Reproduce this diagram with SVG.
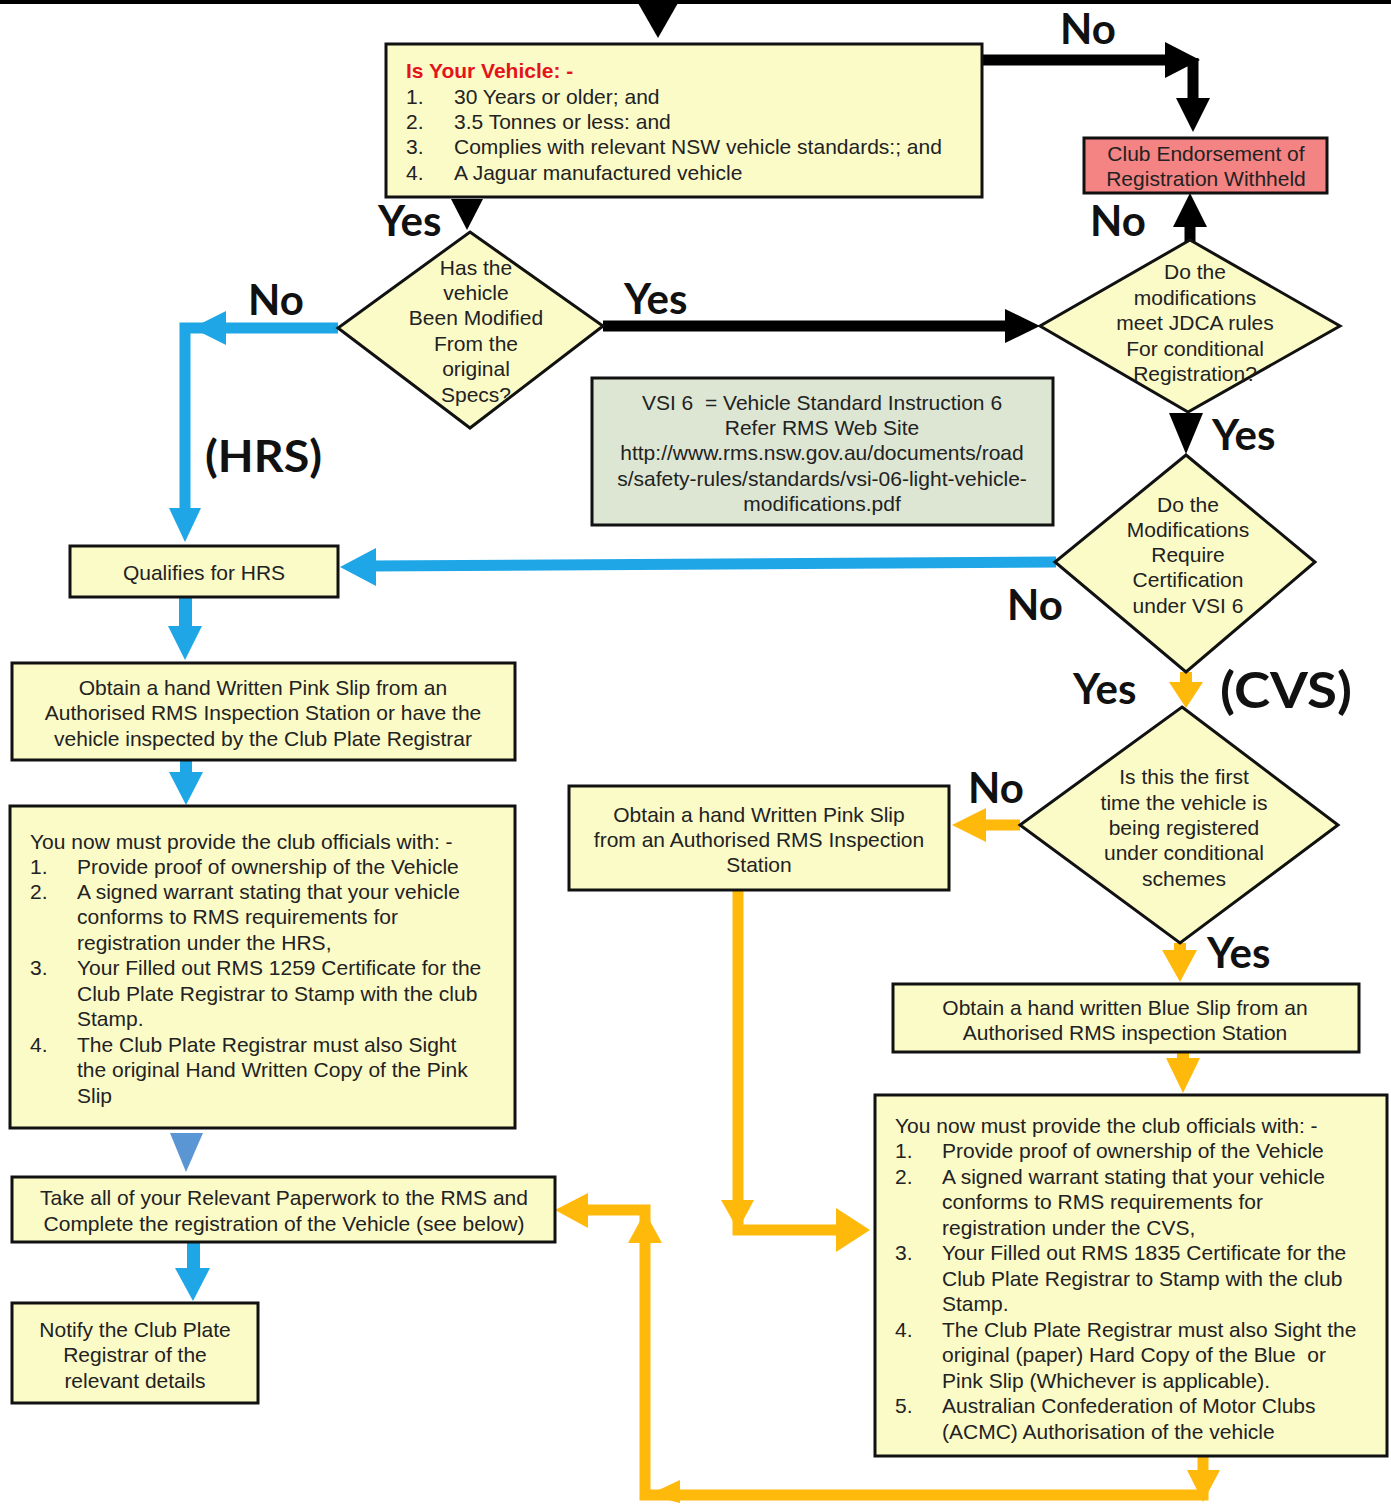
<svg xmlns="http://www.w3.org/2000/svg" width="1391" height="1505" viewBox="0 0 1391 1505">
<style>
.bg{fill:#ffffff}
.box{fill:#fbfbc8;stroke:#111;stroke-width:3}
.red{fill:#f48383;stroke:#111;stroke-width:3}
.green{fill:#dce6d3;stroke:#111;stroke-width:3}
.t{font-family:"Liberation Sans",Arial,sans-serif;font-size:21px;fill:#222;white-space:pre}
.c{text-anchor:middle}
.hd{font-weight:bold;fill:#e3141b}
.lbl{font-family:Lato,"Open Sans",sans-serif;font-weight:bold;font-size:42px;fill:#111}
.k{stroke:#000;stroke-width:11;fill:none}
.kf{fill:#000}
.b{stroke:#1ea6e6;stroke-width:11;fill:none}
.bf{fill:#1ea6e6}
.lb{fill:#5b96d4}
.o{stroke:#ffb90b;stroke-width:11;fill:none}
.of{fill:#ffb90b}
</style>
<rect class="bg" x="0" y="0" width="1391" height="1505"/>

<g id="connectors">
  <!-- top incoming -->
  <rect x="0" y="0" width="1391" height="4" fill="#000"/>
  <polygon class="kf" points="638,3 678,3 658,38"/>
  <!-- box1 -> No -> withheld -->
  <polyline class="k" points="982,60 1175,60"/>
  <polygon class="kf" points="1165,42 1200,60 1165,78"/>
  <polyline class="k" points="1193,58 1193,100"/>
  <polygon class="kf" points="1176,98 1210,98 1193,132"/>
  <!-- box1 -> diamond1 -->
  <polygon class="kf" points="451,199 483,199 467,230"/>
  <!-- diamond1 yes -> diamond2 -->
  <polyline class="k" points="603,326 1010,326"/>
  <polygon class="kf" points="1005,309 1040,326 1005,343"/>
  <!-- diamond2 no -> withheld -->
  <polyline class="k" points="1190,222 1190,242"/>
  <polygon class="kf" points="1173,227 1207,227 1190,193"/>
  <!-- diamond2 yes -> diamond3 -->
  <polygon class="kf" points="1169,413 1203,413 1186,454"/>
  <!-- diamond1 no -> qualifies -->
  <polyline class="b" points="338,328 185,328 185,512"/>
  <polygon class="bf" points="226,311 192,328 226,345"/>
  <polygon class="bf" points="169,508 201,508 185,542"/>
  <!-- diamond3 no -> qualifies -->
  <polyline class="b" points="1056,562 370,566"/>
  <polygon class="bf" points="376,548 340,567 376,586"/>
  <!-- HRS chain -->
  <rect class="bf" x="179" y="597" width="13" height="30"/>
  <polygon class="bf" points="168,626 202,626 185,660"/>
  <rect class="bf" x="180" y="760" width="12" height="15"/>
  <polygon class="bf" points="169,772 203,772 186,805"/>
  <polygon class="lb" points="170,1133 203,1133 186,1172"/>
  <rect class="bf" x="187" y="1242" width="13" height="30"/>
  <polygon class="bf" points="175,1268 210,1268 193,1301"/>
  <!-- diamond3 yes -> diamond4 -->
  <rect class="of" x="1180" y="672" width="12" height="14"/>
  <polygon class="of" points="1169,682 1203,682 1186,708"/>
  <!-- diamond4 no -> pink slip -->
  <polyline class="o" points="1020,825 980,825"/>
  <polygon class="of" points="986,808 952,825 986,842"/>
  <!-- diamond4 yes -> blue slip -->
  <rect class="of" x="1174" y="943" width="12" height="10"/>
  <polygon class="of" points="1162,950 1197,950 1180,982"/>
  <!-- blue slip -> CVS list -->
  <rect class="of" x="1177" y="1052" width="12" height="10"/>
  <polygon class="of" points="1166,1058 1200,1058 1183,1093"/>
  <!-- pink slip -> CVS list -->
  <polyline class="o" points="738,890 738,1230 840,1230"/>
  <polygon class="of" points="721,1200 754,1200 738,1230"/>
  <polygon class="of" points="836,1208 870,1230 836,1252"/>
  <!-- CVS list -> take all -->
  <polyline class="o" points="1203,1456 1203,1495 645,1495 645,1210 585,1210"/>
  <polygon class="of" points="1187,1470 1220,1470 1203,1502"/>
  <polygon class="of" points="680,1480 648,1495 680,1503"/>
  <polygon class="of" points="628,1243 662,1243 645,1212"/>
  <polygon class="of" points="588,1193 555,1210 588,1228"/>
</g>

<g id="n-vehicle">
  <rect class="box" x="386" y="44" width="596" height="153"/>
  <text class="t hd" x="406" y="78">Is Your Vehicle: -</text>
  <text class="t" x="406" y="104">1.</text><text class="t" x="454" y="104">30 Years or older; and</text>
  <text class="t" x="406" y="129">2.</text><text class="t" x="454" y="129">3.5 Tonnes or less: and</text>
  <text class="t" x="406" y="154">3.</text><text class="t" x="454" y="154">Complies with relevant NSW vehicle standards:; and</text>
  <text class="t" x="406" y="180">4.</text><text class="t" x="454" y="180">A Jaguar manufactured vehicle</text>
</g>

<g id="n-withheld">
  <rect class="red" x="1084" y="138" width="243" height="55"/>
  <text class="t c" x="1206" y="161">Club Endorsement of</text>
  <text class="t c" x="1206" y="186">Registration Withheld</text>
</g>

<g id="n-modified">
  <polygon class="box" points="470,232 603,326 470,428 338,328"/>
  <text class="t c" x="476" y="275">Has the</text>
  <text class="t c" x="476" y="300">vehicle</text>
  <text class="t c" x="476" y="325">Been Modified</text>
  <text class="t c" x="476" y="351">From the</text>
  <text class="t c" x="476" y="376">original</text>
  <text class="t c" x="476" y="402">Specs?</text>
</g>

<g id="n-jdca">
  <polygon class="box" points="1190,240 1340,326 1188,412 1040,326"/>
  <text class="t c" x="1195" y="279">Do the</text>
  <text class="t c" x="1195" y="305">modifications</text>
  <text class="t c" x="1195" y="330">meet JDCA rules</text>
  <text class="t c" x="1195" y="356">For conditional</text>
  <text class="t c" x="1195" y="381">Registration?</text>
</g>

<g id="n-vsi-note">
  <rect class="green" x="592" y="378" width="461" height="147"/>
  <text class="t c" x="822" y="410">VSI 6  = Vehicle Standard Instruction 6</text>
  <text class="t c" x="822" y="435">Refer RMS Web Site</text>
  <text class="t c" x="822" y="460">http://www.rms.nsw.gov.au/documents/road</text>
  <text class="t c" x="822" y="486">s/safety-rules/standards/vsi-06-light-vehicle-</text>
  <text class="t c" x="822" y="511">modifications.pdf</text>
</g>

<g id="n-vsi6">
  <polygon class="box" points="1186,455 1315,562 1186,672 1055,562"/>
  <text class="t c" x="1188" y="512">Do the</text>
  <text class="t c" x="1188" y="537">Modifications</text>
  <text class="t c" x="1188" y="562">Require</text>
  <text class="t c" x="1188" y="587">Certification</text>
  <text class="t c" x="1188" y="613">under VSI 6</text>
</g>

<g id="n-qualifies">
  <rect class="box" x="70" y="546" width="268" height="51"/>
  <text class="t c" x="204" y="580">Qualifies for HRS</text>
</g>

<g id="n-pink-hrs">
  <rect class="box" x="12" y="663" width="503" height="97"/>
  <text class="t c" x="263" y="695">Obtain a hand Written Pink Slip from an</text>
  <text class="t c" x="263" y="720">Authorised RMS Inspection Station or have the</text>
  <text class="t c" x="263" y="746">vehicle inspected by the Club Plate Registrar</text>
</g>

<g id="n-hrs-list">
  <rect class="box" x="10" y="806" width="505" height="322"/>
  <text class="t" x="30" y="849">You now must provide the club officials with: -</text>
  <text class="t" x="30" y="874">1.</text><text class="t" x="77" y="874">Provide proof of ownership of the Vehicle</text>
  <text class="t" x="30" y="899">2.</text><text class="t" x="77" y="899">A signed warrant stating that your vehicle</text>
  <text class="t" x="77" y="924">conforms to RMS requirements for</text>
  <text class="t" x="77" y="950">registration under the HRS,</text>
  <text class="t" x="30" y="975">3.</text><text class="t" x="77" y="975">Your Filled out RMS 1259 Certificate for the</text>
  <text class="t" x="77" y="1001">Club Plate Registrar to Stamp with the club</text>
  <text class="t" x="77" y="1026">Stamp.</text>
  <text class="t" x="30" y="1052">4.</text><text class="t" x="77" y="1052">The Club Plate Registrar must also Sight</text>
  <text class="t" x="77" y="1077">the original Hand Written Copy of the Pink</text>
  <text class="t" x="77" y="1103">Slip</text>
</g>

<g id="n-take-all">
  <rect class="box" x="12" y="1177" width="543" height="65"/>
  <text class="t c" x="284" y="1205">Take all of your Relevant Paperwork to the RMS and</text>
  <text class="t c" x="284" y="1231">Complete the registration of the Vehicle (see below)</text>
</g>

<g id="n-notify">
  <rect class="box" x="12" y="1303" width="246" height="100"/>
  <text class="t c" x="135" y="1337">Notify the Club Plate</text>
  <text class="t c" x="135" y="1362">Registrar of the</text>
  <text class="t c" x="135" y="1388">relevant details</text>
</g>

<g id="n-first-time">
  <polygon class="box" points="1182,707 1338,825 1180,943 1020,825"/>
  <text class="t c" x="1184" y="784">Is this the first</text>
  <text class="t c" x="1184" y="810">time the vehicle is</text>
  <text class="t c" x="1184" y="835">being registered</text>
  <text class="t c" x="1184" y="860">under conditional</text>
  <text class="t c" x="1184" y="886">schemes</text>
</g>

<g id="n-pink-cvs">
  <rect class="box" x="569" y="786" width="380" height="104"/>
  <text class="t c" x="759" y="822">Obtain a hand Written Pink Slip</text>
  <text class="t c" x="759" y="847">from an Authorised RMS Inspection</text>
  <text class="t c" x="759" y="872">Station</text>
</g>

<g id="n-blue-slip">
  <rect class="box" x="893" y="984" width="466" height="68"/>
  <text class="t c" x="1125" y="1015">Obtain a hand written Blue Slip from an</text>
  <text class="t c" x="1125" y="1040">Authorised RMS inspection Station</text>
</g>

<g id="n-cvs-list">
  <rect class="box" x="875" y="1095" width="512" height="361"/>
  <text class="t" x="895" y="1133">You now must provide the club officials with: -</text>
  <text class="t" x="895" y="1158">1.</text><text class="t" x="942" y="1158">Provide proof of ownership of the Vehicle</text>
  <text class="t" x="895" y="1184">2.</text><text class="t" x="942" y="1184">A signed warrant stating that your vehicle</text>
  <text class="t" x="942" y="1209">conforms to RMS requirements for</text>
  <text class="t" x="942" y="1235">registration under the CVS,</text>
  <text class="t" x="895" y="1260">3.</text><text class="t" x="942" y="1260">Your Filled out RMS 1835 Certificate for the</text>
  <text class="t" x="942" y="1286">Club Plate Registrar to Stamp with the club</text>
  <text class="t" x="942" y="1311">Stamp.</text>
  <text class="t" x="895" y="1337">4.</text><text class="t" x="942" y="1337">The Club Plate Registrar must also Sight the</text>
  <text class="t" x="942" y="1362">original (paper) Hard Copy of the Blue  or</text>
  <text class="t" x="942" y="1388">Pink Slip (Whichever is applicable).</text>
  <text class="t" x="895" y="1413">5.</text><text class="t" x="942" y="1413">Australian Confederation of Motor Clubs</text>
  <text class="t" x="942" y="1439">(ACMC) Authorisation of the vehicle</text>
</g>

<g id="labels">
  <text class="lbl" x="1060" y="44">No</text>
  <text class="lbl" x="378" y="236">Yes</text>
  <text class="lbl" x="1090" y="236">No</text>
  <text class="lbl" x="248" y="315">No</text>
  <text class="lbl" x="624" y="314">Yes</text>
  <text class="lbl" x="205" y="472" style="font-size:44px" textLength="117" lengthAdjust="spacingAndGlyphs">(HRS)</text>
  <text class="lbl" x="1212" y="450">Yes</text>
  <text class="lbl" x="1007" y="620">No</text>
  <text class="lbl" x="1073" y="704">Yes</text>
  <text class="lbl" x="1220" y="708" style="font-size:49px" textLength="132" lengthAdjust="spacingAndGlyphs">(CVS)</text>
  <text class="lbl" x="968" y="803">No</text>
  <text class="lbl" x="1207" y="968">Yes</text>
</g>
</svg>
